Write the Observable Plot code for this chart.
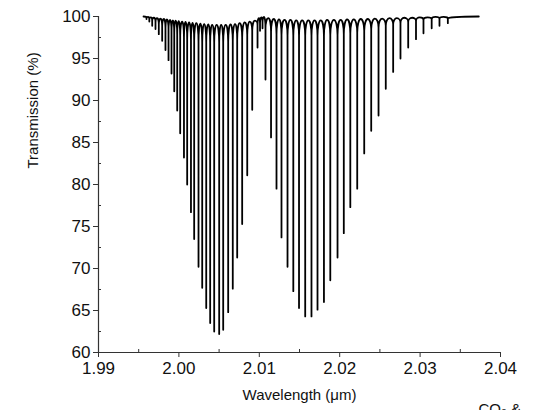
<!DOCTYPE html>
<html><head><meta charset="utf-8">
<script src="https://cdn.jsdelivr.net/npm/d3@7"></script>
<script src="https://cdn.jsdelivr.net/npm/@observablehq/plot@0.6"></script>
<style>html,body{margin:0;padding:0;background:#fff;overflow:hidden}</style>
</head><body><div id="chart"></div>
<script>
// Absorption line centres (µm) and the transmission (%) at each line centre
const lineWl = [1.99597, 1.99632, 1.99668, 1.99709, 1.99750, 1.99792, 1.99833, 1.99871, 1.99908, 1.99942,
  1.99979, 2.00016, 2.00063, 2.00103, 2.00150, 2.00190, 2.00244, 2.00290, 2.00340, 2.00389,
  2.00439, 2.00501, 2.00551, 2.00613, 2.00670, 2.00725, 2.00787, 2.00850, 2.00912, 2.00978,
  2.01009, 2.01040,
  2.01077, 2.01146, 2.01214, 2.01276, 2.01351, 2.01423, 2.01494, 2.01571, 2.01649, 2.01724,
  2.01804, 2.01883, 2.01973, 2.02051, 2.02132, 2.02218, 2.02305, 2.02392, 2.02483, 2.02573,
  2.02665, 2.02756, 2.02852, 2.02949, 2.03042, 2.03144, 2.03241, 2.03345];
const lineMin = [99.7, 99.4, 98.9, 98.5, 97.9, 97.1, 96.0, 94.8, 93.2, 91.1,
  88.8, 86.1, 83.2, 80.0, 76.7, 73.5, 70.2, 67.7, 65.3, 63.5,
  62.5, 62.2, 62.7, 64.8, 67.6, 71.3, 75.3, 81.1, 88.9, 96.3,
  98.3, 98.6,
  92.5, 85.6, 79.5, 73.7, 70.2, 67.3, 65.3, 64.3, 64.3, 65.1,
  66.0, 68.6, 71.3, 74.2, 77.3, 79.5, 83.7, 86.4, 88.2, 91.4,
  93.4, 95.0, 96.3, 97.3, 98.0, 98.6, 98.9, 99.2];
// Level (%) where each dip narrows into a thin line
const lineShoulder = [99.85, 99.7,
  99.5, 99.3, 99.1, 98.9, 98.7, 98.5, 98.3, 98.1, 97.9, 97.7,
  97.5, 97.3, 97.2, 97.1, 97.0, 96.9, 96.9, 96.9, 96.9, 96.9,
  96.9, 97.0, 97.1, 97.3, 97.5, 97.8, 98.3, 99.0,
  99.2, 99.3,
  98.6, 98.2, 97.9, 97.8, 97.7, 97.7, 97.7, 97.7, 97.7, 97.7,
  97.7, 97.8, 97.8, 97.9, 98.0, 98.1, 98.3, 98.5, 98.7, 98.9,
  99.1, 99.2, 99.35, 99.5, 99.6, 99.7, 99.75, 99.8];
// Transmission maxima between neighbouring lines (position µm, value %)
const peakWl = [1.99615, 1.99650, 1.99689, 1.99730, 1.99771, 1.99813, 1.99852, 1.99890, 1.99925, 1.99961,
  1.99998, 2.00040, 2.00083, 2.00127, 2.00170, 2.00217, 2.00267, 2.00315, 2.00365, 2.00414,
  2.00470, 2.00526, 2.00582, 2.00642, 2.00698, 2.00756, 2.00819, 2.00881, 2.00945, 2.00994,
  2.01025, 2.01059, 2.01112, 2.01180, 2.01245, 2.01314, 2.01387, 2.01459, 2.01533, 2.01610,
  2.01687, 2.01764, 2.01844, 2.01928, 2.02012, 2.02092, 2.02175, 2.02262, 2.02349, 2.02438,
  2.02528, 2.02619, 2.02711, 2.02804, 2.02901, 2.02996, 2.03093, 2.03193, 2.03293];
const peakT = [99.95, 99.9,
  99.85, 99.8, 99.75, 99.7, 99.65, 99.6, 99.55, 99.5, 99.45, 99.4,
  99.35, 99.3, 99.25, 99.2, 99.15, 99.1, 99.05, 99.0, 99.0, 99.0,
  99.0, 99.05, 99.1, 99.2, 99.3, 99.4, 99.5,
  99.8, 99.9, 99.95,
  99.8, 99.7, 99.65, 99.6, 99.6, 99.55, 99.55, 99.55, 99.55, 99.55,
  99.6, 99.6, 99.6, 99.65, 99.65, 99.7, 99.7, 99.75, 99.75, 99.8,
  99.8, 99.85, 99.85, 99.9, 99.9, 99.95, 99.95];
const scanRange = [1.9956, 2.0373];
const baseline = 100;

const xTicks = [1.99, 2.00, 2.01, 2.02, 2.03, 2.04];
const xMinor = [1.995, 2.005, 2.015, 2.025, 2.035];
const yTicks = [60, 65, 70, 75, 80, 85, 90, 95, 100];
const yMinor = [62.5, 67.5, 72.5, 77.5, 82.5, 87.5, 92.5, 97.5];

// trace: baseline -> (shoulder, centre, shoulder) for each line, with the maxima in between
const pts = [{wl: scanRange[0], t: baseline}];
lineWl.forEach((w, i) => {
  pts.push({wl: w, t: lineShoulder[i]}, {wl: w, t: lineMin[i]}, {wl: w, t: lineShoulder[i]});
  if (i < peakWl.length) pts.push({wl: peakWl[i], t: peakT[i]});
});
pts.push({wl: scanRange[1], t: baseline});

// curve: straight line dips, rounded arches between them
function spectrumCurve(context) {
  let p = [];
  const vert = (a, b) => Math.abs(a[0] - b[0]) < 1e-6;
  return {
    areaStart() {}, areaEnd() {},
    lineStart() { p = []; },
    point(x, y) { p.push([+x, +y]); },
    lineEnd() {
      const n = p.length;
      if (!n) return;
      context.moveTo(p[0][0], p[0][1]);
      const k = 0.55;
      for (let j = 1; j < n; j++) {
        const a = p[j - 1], b = p[j];
        if (vert(a, b)) { context.lineTo(b[0], b[1]); continue; }
        const aSh = j >= 2 && vert(p[j - 2], a);
        const bSh = j + 1 < n && vert(b, p[j + 1]);
        const c1 = aSh ? [a[0], a[1] + (b[1] - a[1]) * k] : [a[0] + (b[0] - a[0]) * k, a[1]];
        const c2 = bSh ? [b[0], b[1] + (a[1] - b[1]) * k] : [b[0] + (a[0] - b[0]) * k, b[1]];
        context.bezierCurveTo(c1[0], c1[1], c2[0], c2[1], b[0], b[1]);
      }
    }
  };
}

const font = "'Liberation Sans', Arial, sans-serif";
const axisColor = "#333";

const chart = Plot.plot({
  width: 543, height: 410,
  marginLeft: 98, marginRight: 43, marginTop: 16, marginBottom: 58,
  style: {fontFamily: font, background: "#fff"},
  x: {domain: [1.99, 2.04]},
  y: {domain: [60, 100]},
  marks: [
    Plot.line(pts, {x: "wl", y: "t", stroke: "#000", strokeWidth: 1.8, curve: spectrumCurve}),
    Plot.ruleX([1.99], {stroke: axisColor, strokeWidth: 1.2}),
    Plot.ruleY([60], {stroke: axisColor, strokeWidth: 1.2}),
    Plot.axisX({ticks: xTicks, tickSize: 5, tickPadding: 4, tickFormat: d3.format(".2f"),
      fontSize: 17, label: null, stroke: axisColor, fill: "#111"}),
    Plot.axisX({ticks: xMinor, tickSize: 3, dy: -3, text: null, label: null, stroke: axisColor}),
    Plot.axisY({ticks: yTicks, tickSize: 5, tickPadding: 3, tickFormat: d3.format("d"),
      fontSize: 17, label: null, stroke: axisColor, fill: "#111"}),
    Plot.axisY({ticks: yMinor, tickSize: 3, dx: 3, text: null, label: null, stroke: axisColor}),
    Plot.text(["Transmission (%)"], {frameAnchor: "left", rotate: -90, dx: -65, dy: -16,
      fontSize: 15, fill: "#111"}),
    Plot.text(["Wavelength (μm)"], {frameAnchor: "bottom", dy: 47, fontSize: 15, fill: "#111"}),
    Plot.text(["CO₂ &"], {frameAnchor: "bottom-right", dx: -22, dy: 61, textAnchor: "start",
      lineAnchor: "bottom", fontSize: 15, fill: "#111"})
  ]
});
document.getElementById("chart").appendChild(chart);
</script></body></html>
